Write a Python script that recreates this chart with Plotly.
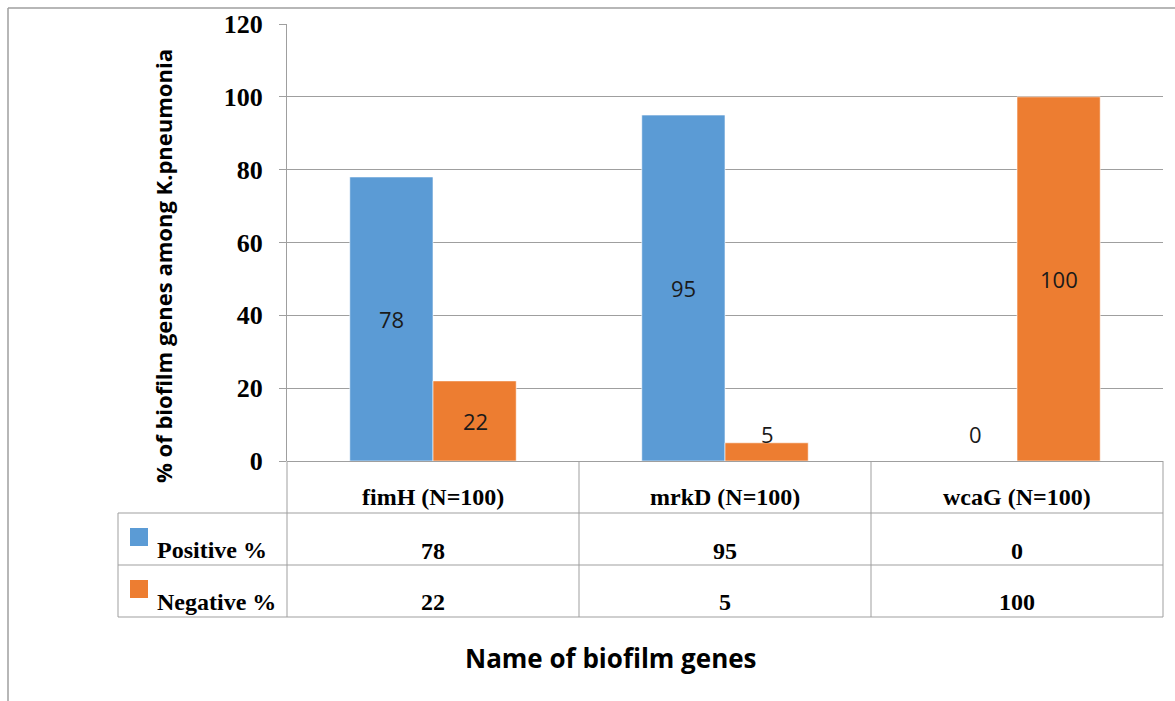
import plotly.graph_objects as go

# ---- data ----
genes = ["fimH (N=100)", "mrkD (N=100)", "wcaG (N=100)"]
series_names = ["Positive %", "Negative %"]
positive = [78, 95, 0]
negative = [22, 5, 100]
y_ticks = [0, 20, 40, 60, 80, 100, 120]

colors = ["#5B9BD5", "#ED7D31"]
series_values = [positive, negative]

W, H = 1175, 701
L, R, T, B = 287, 12, 24, 240
PW, PH = W - L - R, H - T - B


def px_x(px):
    return (px - L) / PW


def px_y(py):
    return (H - B - py) / PH


fig = go.Figure()
for name, vals, col in zip(series_names, series_values, colors):
    fig.add_trace(go.Bar(
        x=genes, y=vals, name=name,
        marker=dict(color=col, line=dict(color="white", width=0.6)),
        showlegend=False,
    ))

shapes = []
annotations = []
grey = "#9f9f9f"

# value labels centred in bars (small bars get a floor so text stays readable)
for si, vals in enumerate(series_values):
    for ci, v in enumerate(vals):
        annotations.append(dict(
            x=genes[ci], y=max(v / 2, 7.5), xref="x", yref="y",
            text=str(v), showarrow=False, xanchor="center", yanchor="middle",
            xshift=(-42 if si == 0 else 42),
            font=dict(family="Open Sans", size=22, color="#1a1a1a"),
        ))

# ---- data table under the axis ----
row_lines = [461, 513, 565, 617]
col_lines = [118, 287, 579, 871, 1163]
for py in row_lines[1:]:
    shapes.append(dict(type="line", xref="paper", yref="paper",
                       x0=px_x(118), x1=px_x(1163), y0=px_y(py), y1=px_y(py),
                       line=dict(color=grey, width=1)))
for px in col_lines:
    top = 513 if px == 118 else 461
    shapes.append(dict(type="line", xref="paper", yref="paper",
                       x0=px_x(px), x1=px_x(px), y0=px_y(top), y1=px_y(617),
                       line=dict(color=grey, width=1)))

serif = dict(family="Liberation Serif", size=24, color="black", weight="bold")
for ci, g in enumerate(genes):
    annotations.append(dict(x=g, xref="x", y=px_y(497), yref="paper",
                            text=g, showarrow=False, font=serif,
                            xanchor="center", yanchor="middle"))
    for ri, vals in enumerate(series_values):
        cy = 551 if ri == 0 else 602
        annotations.append(dict(x=g, xref="x", y=px_y(cy), yref="paper",
                                text=str(vals[ci]), showarrow=False, font=serif,
                                xanchor="center", yanchor="middle"))

for ri, (name, col) in enumerate(zip(series_names, colors)):
    sq_top = 528 + ri * 52
    shapes.append(dict(type="rect", xref="paper", yref="paper",
                       x0=px_x(130), x1=px_x(148), y0=px_y(sq_top), y1=px_y(sq_top + 18),
                       fillcolor=col, line=dict(width=0)))
    annotations.append(dict(x=px_x(155), xref="paper", y=px_y(550 + ri * 52), yref="paper",
                            text=name, showarrow=False, xanchor="left", yanchor="middle",
                            font=serif))

# axis titles
annotations.append(dict(x=px_x(163), xref="paper", y=px_y(266), yref="paper",
                        text="% of biofilm genes among K.pneumonia", textangle=-90,
                        showarrow=False, xanchor="center", yanchor="middle",
                        font=dict(family="Open Sans", size=22, color="black", weight="bold")))
annotations.append(dict(x=px_x(611), xref="paper", y=px_y(658), yref="paper",
                        text="Name of biofilm genes", showarrow=False,
                        xanchor="center", yanchor="middle",
                        font=dict(family="Open Sans", size=26, color="black", weight="bold")))

# outer chart frame (top and left edges)
shapes.append(dict(type="line", xref="paper", yref="paper",
                   x0=px_x(8), x1=px_x(W), y0=px_y(8), y1=px_y(8),
                   line=dict(color=grey, width=1.5)))
shapes.append(dict(type="line", xref="paper", yref="paper",
                   x0=px_x(8), x1=px_x(8), y0=px_y(8), y1=px_y(H),
                   line=dict(color=grey, width=1.5)))

fig.update_layout(
    width=W, height=H,
    margin=dict(l=L, r=R, t=T, b=B, pad=0, autoexpand=False),
    paper_bgcolor="white", plot_bgcolor="white",
    barmode="group", bargap=0.43, bargroupgap=0,
    shapes=shapes, annotations=annotations,
)
fig.update_xaxes(showticklabels=False, showgrid=False, showline=False, ticks="",
                 automargin=False)
fig.update_yaxes(
    range=[0, 120], tickvals=y_ticks, showgrid=True, gridcolor=grey, gridwidth=1,
    showline=True, linecolor=grey, linewidth=1, ticks="outside", ticklen=7,
    tickcolor=grey, zeroline=True, zerolinecolor=grey, zerolinewidth=1,
    tickfont=dict(family="Liberation Serif", size=26, color="black", weight="bold"),
    ticklabelstandoff=11, automargin=False,
)

fig.write_html("out.html")
